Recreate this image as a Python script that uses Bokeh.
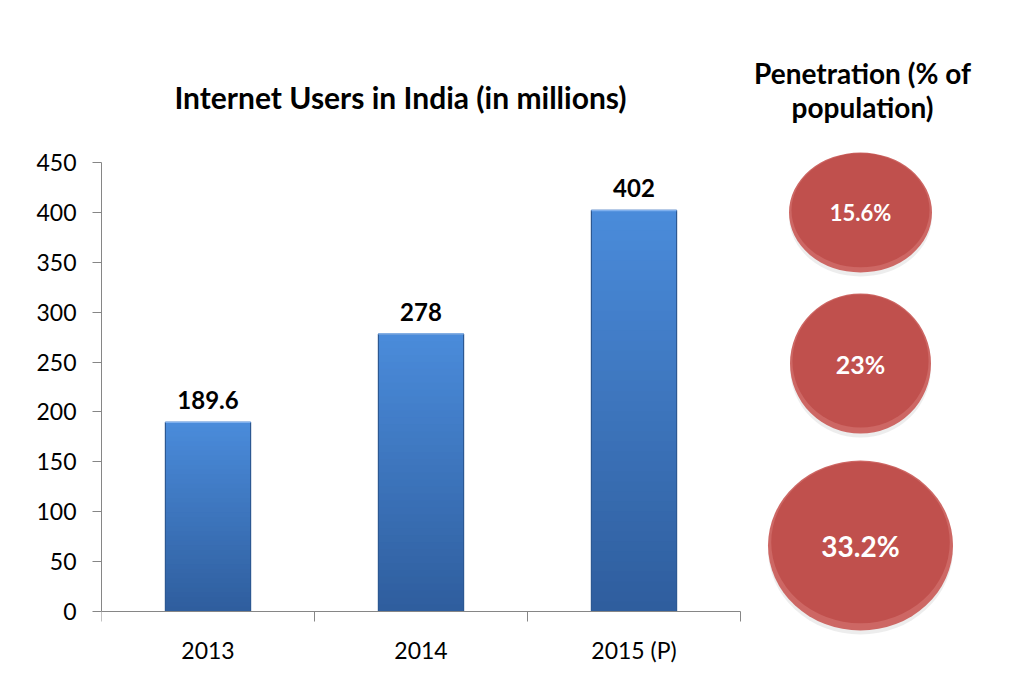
from bokeh.plotting import figure
from bokeh.models import FixedTicker, Range1d, ColumnDataSource
from bokeh.embed import file_html
from bokeh.resources import INLINE
from bokeh.core.properties import value

# ---- data ----
years = ["2013", "2014", "2015 (P)"]
users = [189.6, 278, 402]
user_labels = ["189.6", "278", "402"]
penetration = [15.6, 23, 33.2]
pen_labels = ["15.6%", "23%", "33.2%"]
y_ticks = [0, 50, 100, 150, 200, 250, 300, 350, 400, 450]
chart_title = "Internet Users in India (in millions)"
side_title = ["Penetration (% of", "population)"]

# ---- layout / style (pixels) ----
FONT = "Lato"
W, H = 1016, 682
FRAME_L, FRAME_R, FRAME_T, FRAME_B = 101, 1016, 0, 680
AXIS_Y0, AXIS_Y450, BAR_AREA_R = 611, 162, 740
bar_width = 0.4
bubble_x = [860, 860, 860]
bubble_y = [212, 363, 545]
bubble_w = [143, 141, 185]
bubble_h = [120, 140, 170]
bubble_font = ["22px", "25px", "28px"]

def lerp_color(c1, c2, t):
    a = [int(c1[i:i + 2], 16) for i in (1, 3, 5)]
    b = [int(c2[i:i + 2], 16) for i in (1, 3, 5)]
    return "#%02x%02x%02x" % tuple(int(round(a[k] + (b[k] - a[k]) * t)) for k in range(3))

n_cat = len(years)
x_end = n_cat * (FRAME_R - FRAME_L) / (BAR_AREA_R - FRAME_L)
s = (AXIS_Y0 - AXIS_Y450) / y_ticks[-1]
y_start = -(FRAME_B - AXIS_Y0) / s
y_end = y_ticks[-1] + (AXIS_Y450 - FRAME_T) / s

p = figure(width=W, height=H, x_range=Range1d(0, x_end), y_range=Range1d(y_start, y_end),
           output_backend="svg", toolbar_location=None,
           min_border_left=FRAME_L, min_border_right=W - FRAME_R,
           min_border_top=FRAME_T, min_border_bottom=H - FRAME_B)
p.extra_x_ranges = {"px": Range1d(FRAME_L, FRAME_R)}
p.extra_y_ranges = {"px": Range1d(FRAME_B, FRAME_T)}
p.outline_line_color = None
p.grid.visible = False
p.background_fill_color = "white"
p.border_fill_color = "white"

centers = [i + 0.5 for i in range(n_cat)]

# bars with vertical gradient
N = 40
sl = dict(left=[], right=[], bottom=[], top=[], color=[])
for i in range(N):
    t = i / (N - 1)
    col = lerp_color("#2f5e9e", "#4a8bda", t)
    for c, v in zip(centers, users):
        sl["left"].append(c - bar_width / 2)
        sl["right"].append(c + bar_width / 2)
        sl["bottom"].append(v * i / N)
        sl["top"].append(v)
        sl["color"].append(col)
p.quad(left="left", right="right", bottom="bottom", top="top", fill_color="color",
       line_color=None, source=ColumnDataSource(sl))

bars = ColumnDataSource(dict(x=centers, top=users, label=user_labels,
                             left=[c - bar_width / 2 for c in centers],
                             right=[c + bar_width / 2 for c in centers],
                             bottom=[0] * n_cat))
p.quad(left="left", right="right", bottom="bottom", top="top", fill_color=None,
       line_color="#2c5892", line_width=1.2, source=bars)
p.segment(x0="left", x1="right", y0="top", y1="top", line_color="#7fb0ee",
          line_width=1.5, source=bars)

p.text(x="x", y="top", text="label", source=bars, y_offset=-13,
       text_align="center", text_baseline="bottom", text_font=value(FONT),
       text_font_style="bold", text_font_size="24px", text_color="black")

# y axis
p.yaxis.bounds = (0, y_ticks[-1])
p.yaxis.ticker = FixedTicker(ticks=y_ticks)
p.yaxis.major_tick_in = 0
p.yaxis.major_tick_out = 9
p.yaxis.minor_tick_line_color = None
p.yaxis.axis_line_color = "#868686"
p.yaxis.major_tick_line_color = "#868686"
p.yaxis.major_label_text_font = FONT
p.yaxis.major_label_text_font_size = "23px"
p.yaxis.major_label_text_color = "black"
p.yaxis.major_label_standoff = 16

# x axis (drawn at y = 0 inside the plot area)
p.xaxis.fixed_location = 0
p.xaxis.bounds = (0, n_cat)
p.xaxis.ticker = FixedTicker(ticks=centers, minor_ticks=list(range(n_cat + 1)))
p.xaxis.major_label_overrides = {c: y for c, y in zip(centers, years)}
p.xaxis.major_tick_in = 0
p.xaxis.major_tick_out = 0
p.xaxis.minor_tick_in = 0
p.xaxis.minor_tick_out = 10
p.xaxis.minor_tick_line_color = "#868686"
p.xaxis.axis_line_color = "#868686"
p.xaxis.major_label_text_font = FONT
p.xaxis.major_label_text_font_size = "23px"
p.xaxis.major_label_text_color = "black"
p.xaxis.major_label_standoff = 14

# chart title
p.text(x=[400], y=[96], text=[chart_title], x_range_name="px", y_range_name="px",
       text_align="center", text_baseline="middle", text_font=value(FONT),
       text_font_style="bold", text_font_size="30px", text_color="black")

# side title
p.text(x=[862, 862], y=[72, 106], text=side_title, x_range_name="px", y_range_name="px",
       text_align="center", text_baseline="middle", text_font=value(FONT),
       text_font_style="bold", text_font_size="28px", text_color="black")

# penetration bubbles
bsrc = ColumnDataSource(dict(
    x=bubble_x, y=bubble_y, w=bubble_w, h=bubble_h,
    ys=[y + 4 for y in bubble_y],
    wi=[w * 0.965 for w in bubble_w], hi=[h * 0.95 for h in bubble_h],
    yi=[y - h * 0.018 for y, h in zip(bubble_y, bubble_h)],
    label=pen_labels, fs=bubble_font, pen=penetration))
p.ellipse(x="x", y="ys", width="w", height="h", fill_color="#b8b8b8",
          fill_alpha=0.25, line_color=None, source=bsrc, x_range_name="px", y_range_name="px")
p.ellipse(x="x", y="y", width="w", height="h", fill_color="#cd6764",
          line_color=None, source=bsrc, x_range_name="px", y_range_name="px")
p.ellipse(x="x", y="yi", width="wi", height="hi", fill_color="#c0504d",
          line_color=None, source=bsrc, x_range_name="px", y_range_name="px")
p.text(x="x", y="y", text="label", source=bsrc, text_align="center",
       text_baseline="middle", text_font=value(FONT), text_font_style="bold",
       text_font_size="fs", text_color="white", x_range_name="px", y_range_name="px")

open("out.html", "w").write(file_html(p, INLINE))
